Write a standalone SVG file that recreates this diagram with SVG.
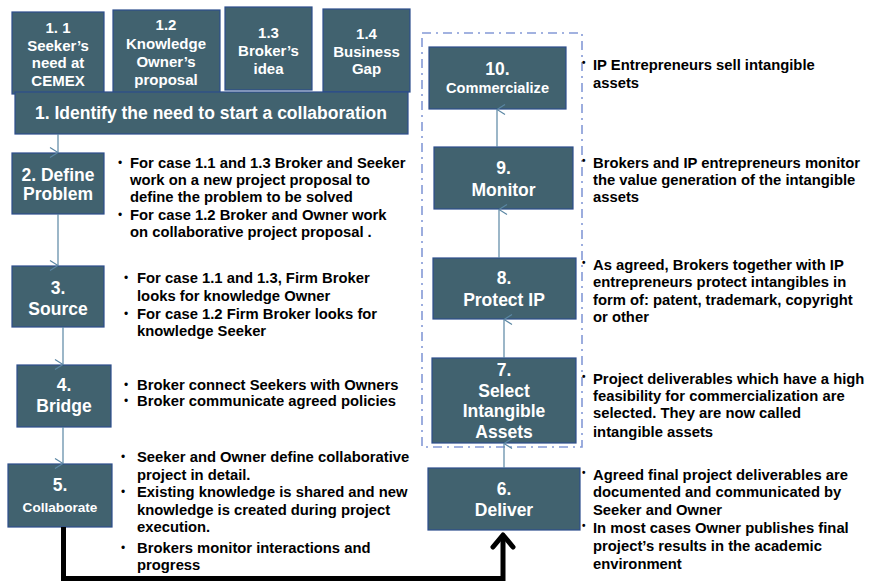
<svg xmlns="http://www.w3.org/2000/svg" width="869" height="582" viewBox="0 0 869 582">
<defs>
<style>
.box{fill:#41626f;stroke:#2c4d8c;stroke-width:1.2}
.bt{font-family:"Liberation Sans",Arial,sans-serif;font-weight:bold;fill:#ffffff;text-anchor:middle}
.tx{font-family:"Liberation Sans",Arial,sans-serif;font-weight:bold;fill:#000000;font-size:14.8px}
.bu{font-size:10px}
.bl{font-size:12px;font-weight:normal}
.con{stroke:#5a86a3;stroke-width:1.2;fill:none}
</style>
<marker id="ah" markerWidth="12" markerHeight="12" refX="6" refY="1" orient="auto-start-reverse" markerUnits="userSpaceOnUse" viewBox="0 0 12 12">
<path d="M1,9 L6,1 L11,9" fill="none" stroke="#5a86a3" stroke-width="1.2"/>
</marker>
</defs>
<rect width="869" height="582" fill="#ffffff"/>

<g id="frame">
<rect x="422" y="33" width="160" height="414" fill="none" stroke="#8499d6" stroke-width="1.6" stroke-dasharray="9,5,2,5"/>
</g>

<g id="n1_1"><rect class="box" x="12" y="12" width="92" height="82"/>
<text class="bt" font-size="15"><tspan x="58" y="33">1. 1</tspan><tspan x="58" y="50.5">Seeker’s</tspan><tspan x="58" y="68">need at</tspan><tspan x="58" y="86">CEMEX</tspan></text></g>
<g id="n1_2"><rect class="box" x="113" y="10" width="107" height="84"/>
<text class="bt" font-size="15"><tspan x="166" y="30">1.2</tspan><tspan x="166" y="48.5">Knowledge</tspan><tspan x="166" y="67">Owner’s</tspan><tspan x="166" y="85">proposal</tspan></text></g>
<g id="n1_3"><rect class="box" x="225" y="7" width="87" height="83"/>
<text class="bt" font-size="15"><tspan x="268.5" y="38">1.3</tspan><tspan x="268.5" y="56">Broker’s</tspan><tspan x="268.5" y="73.5">idea</tspan></text></g>
<g id="n1_4"><rect class="box" x="323" y="9" width="87" height="83"/>
<text class="bt" font-size="15"><tspan x="366.5" y="39">1.4</tspan><tspan x="366.5" y="56.5">Business</tspan><tspan x="366.5" y="74">Gap</tspan></text></g>
<g id="n1"><rect class="box" x="15" y="92" width="393" height="42"/>
<text class="bt" font-size="17.5" x="211" y="119">1. Identify the need to start a collaboration</text></g>

<g id="n2"><rect class="box" x="12" y="153" width="92" height="61"/>
<text class="bt" font-size="17.5"><tspan x="58" y="181">2. Define</tspan><tspan x="58" y="200">Problem</tspan></text></g>
<g id="n3"><rect class="box" x="12" y="266" width="92" height="61"/>
<text class="bt" font-size="17.5"><tspan x="58" y="294">3.</tspan><tspan x="58" y="315">Source</tspan></text></g>
<g id="n4"><rect class="box" x="17" y="365" width="94" height="62"/>
<text class="bt" font-size="17.5"><tspan x="64" y="391">4.</tspan><tspan x="64" y="412">Bridge</tspan></text></g>
<g id="n5"><rect class="box" x="8" y="464" width="104" height="63"/>
<text class="bt"><tspan x="60" y="491" font-size="17.5">5.</tspan><tspan x="60" y="512" font-size="13.6">Collaborate</tspan></text></g>

<g id="n6"><rect class="box" x="428" y="468" width="152" height="62"/>
<text class="bt" font-size="17.5"><tspan x="504" y="495">6.</tspan><tspan x="504" y="516">Deliver</tspan></text></g>
<g id="n7"><rect class="box" x="432" y="358" width="144" height="85"/>
<text class="bt" font-size="17.5"><tspan x="504" y="376">7.</tspan><tspan x="504" y="397">Select</tspan><tspan x="504" y="417">Intangible</tspan><tspan x="504" y="438">Assets</tspan></text></g>
<g id="n8"><rect class="box" x="433" y="258" width="143" height="61"/>
<text class="bt" font-size="17.5"><tspan x="504" y="284">8.</tspan><tspan x="504" y="306">Protect IP</tspan></text></g>
<g id="n9"><rect class="box" x="434" y="147" width="139" height="62"/>
<text class="bt" font-size="17.5"><tspan x="503.5" y="174">9.</tspan><tspan x="503.5" y="196">Monitor</tspan></text></g>
<g id="n10"><rect class="box" x="429" y="47" width="137" height="62"/>
<text class="bt"><tspan x="497.5" y="75" font-size="17.5">10.</tspan><tspan x="497.5" y="93" font-size="14.6">Commercialize</tspan></text></g>

<g id="connectors">
<line class="con" x1="58" y1="134" x2="58" y2="152.5" marker-end="url(#ah)"/>
<line class="con" x1="58" y1="214" x2="58" y2="265.5" marker-end="url(#ah)"/>
<line class="con" x1="63" y1="327" x2="63" y2="364.5" marker-end="url(#ah)"/>
<line class="con" x1="63" y1="427" x2="63" y2="463.5" marker-end="url(#ah)"/>
<line class="con" x1="504" y1="468" x2="504" y2="443.5" marker-end="url(#ah)"/>
<line class="con" x1="504" y1="358" x2="504" y2="319.5" marker-end="url(#ah)"/>
<line class="con" x1="499" y1="258" x2="499" y2="209.5" marker-end="url(#ah)"/>
<line class="con" x1="497" y1="147" x2="497" y2="109.5" marker-end="url(#ah)"/>
<path d="M63.5,527 V578.5 H503 V535" fill="none" stroke="#000" stroke-width="5"/>
<path d="M493,547 L503,535 L513,547" fill="none" stroke="#000" stroke-width="5" stroke-linecap="round" stroke-linejoin="round"/>
</g>

<g id="t2" class="tx">
<text class="bl" x="118" y="167">•</text><text x="130" y="168">For case 1.1 and 1.3 Broker and Seeker</text>
<text x="130" y="185">work on a new project proposal to</text>
<text x="130" y="202">define the problem to be solved</text>
<text class="bl" x="118" y="219">•</text><text x="130" y="220">For case 1.2 Broker and  Owner work</text>
<text x="130" y="237">on collaborative project proposal .</text>
</g>
<g id="t3" class="tx">
<text class="bl" x="124" y="282">•</text><text x="137" y="283">For case 1.1 and 1.3, Firm Broker</text>
<text x="137" y="301">looks for knowledge Owner</text>
<text class="bl" x="124" y="318">•</text><text x="137" y="319">For case 1.2 Firm Broker looks for</text>
<text x="137" y="336">knowledge Seeker</text>
</g>
<g id="t4" class="tx">
<text class="bl" x="124" y="389">•</text><text x="137" y="390">Broker connect Seekers with Owners</text>
<text class="bl" x="124" y="405">•</text><text x="137" y="406">Broker communicate agreed policies</text>
</g>
<g id="t5" class="tx">
<text class="bl" x="121" y="461">•</text><text x="137" y="462">Seeker and Owner define collaborative</text>
<text x="137" y="480">project in detail.</text>
<text class="bl" x="121" y="496">•</text><text x="137" y="497">Existing knowledge is shared and new</text>
<text x="137" y="515">knowledge is created during project</text>
<text x="137" y="532">execution.</text>
<text class="bl" x="121" y="552">•</text><text x="137" y="553">Brokers monitor interactions and</text>
<text x="137" y="570">progress</text>
</g>
<g id="t10" class="tx">
<text class="bu" x="582" y="66">•</text><text x="593" y="70">IP Entrepreneurs sell intangible</text>
<text x="593" y="88">assets</text>
</g>
<g id="t9" class="tx">
<text class="bu" x="582" y="164">•</text><text x="593" y="168">Brokers and IP entrepreneurs monitor</text>
<text x="593" y="185">the value generation of the intangible</text>
<text x="593" y="202">assets</text>
</g>
<g id="t8" class="tx">
<text class="bu" x="582" y="266">•</text><text x="593" y="270">As agreed, Brokers together with IP</text>
<text x="593" y="287">entrepreneurs protect intangibles  in</text>
<text x="593" y="305">form of: patent, trademark, copyright</text>
<text x="593" y="322">or other</text>
</g>
<g id="t7" class="tx">
<text class="bu" x="582" y="380">•</text><text x="593" y="384">Project deliverables which have a high</text>
<text x="593" y="401">feasibility for commercialization are</text>
<text x="593" y="418">selected. They are now called</text>
<text x="593" y="437">intangible assets</text>
</g>
<g id="t6" class="tx">
<text class="bu" x="582" y="476">•</text><text x="593" y="480">Agreed final project deliverables are</text>
<text x="593" y="497">documented and communicated by</text>
<text x="593" y="515">Seeker and Owner</text>
<text class="bu" x="582" y="529">•</text><text x="593" y="533">In most cases Owner publishes final</text>
<text x="593" y="551">project’s results in the academic</text>
<text x="593" y="569">environment</text>
</g>
</svg>
